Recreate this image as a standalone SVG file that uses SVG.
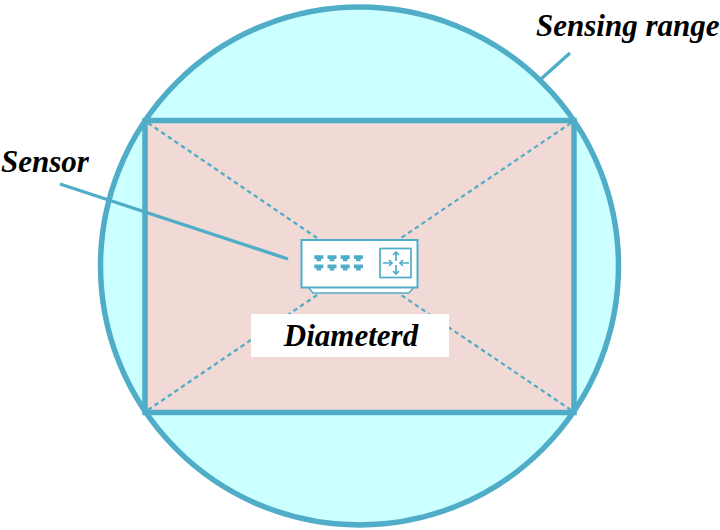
<svg xmlns="http://www.w3.org/2000/svg" width="720" height="530" viewBox="0 0 720 530">
<style>
.s{stroke:#4fadc7}
.d{stroke:#4fadc7;stroke-width:2.200;stroke-dasharray:4.500 3.500;fill:none}
.l{stroke:#4fadc7;stroke-width:3.400;fill:none}
.t{font-family:"Liberation Serif",serif;font-style:italic;font-weight:bold;fill:#000;font-size:31px}
.p{fill:#4fadc7}
.w{fill:#fff;stroke:#4fadc7}
.a{fill:none;stroke:#4fadc7;stroke-width:1.700}
</style>
<rect width="720" height="530" fill="#fff"/>
<g id="range"><circle cx="359.500" cy="266" r="259" fill="#ccffff" class="s" stroke-width="5.500"/></g>
<g id="area"><rect x="145" y="120.500" width="429" height="292" fill="#f1d9d6" class="s" stroke-width="5.500"/></g>
<g id="connectors">
<path class="d" d="M148 123L320 240M571 123L398 240M148 410L320 293M571 410L398 293"/>
<path class="l" d="M60 184L288 259M541 79L570 53"/>
</g>
<g id="diameter"><rect x="251" y="314" width="198" height="43" fill="#fff"/>
<text class="t" x="351" y="346" text-anchor="middle">Diameterd</text></g>
<g id="sensor">
<path d="M308 287H414L409 293H313Z" class="w" stroke-width="1.500"/>
<rect x="301.500" y="240" width="116" height="47.500" class="w" stroke-width="2"/>
<rect x="380" y="248.500" width="31" height="29" class="w" stroke-width="1.700"/>
<path class="p" d="M314.300 255.200h9v3.800h-2.200v2.200h-4.600v-2.200h-2.200zM327.500 255.200h9v3.800h-2.200v2.200h-4.600v-2.200h-2.200zM340.700 255.200h9v3.800h-2.200v2.200h-4.600v-2.200h-2.200zM353.900 255.200h9v3.800h-2.200v2.200h-4.600v-2.200h-2.200zM314.300 264.500h9v3.800h-2.200v2.200h-4.600v-2.200h-2.200zM327.500 264.500h9v3.800h-2.200v2.200h-4.600v-2.200h-2.200zM340.700 264.500h9v3.800h-2.200v2.200h-4.600v-2.200h-2.200zM353.900 264.500h9v3.800h-2.200v2.200h-4.600v-2.200h-2.200z"/>
<path class="a" d="M396 252V261M393 255L396 252L399 255M396 274V265M393 271L396 274L399 271M383 263H392M389 260L392 263L389 266M409 263H400M403 260L400 263L403 266"/>
</g>
<g id="labels">
<text class="t" x="536" y="36">Sensing range</text>
<text class="t" x="1" y="172">Sensor</text>
</g>
</svg>
